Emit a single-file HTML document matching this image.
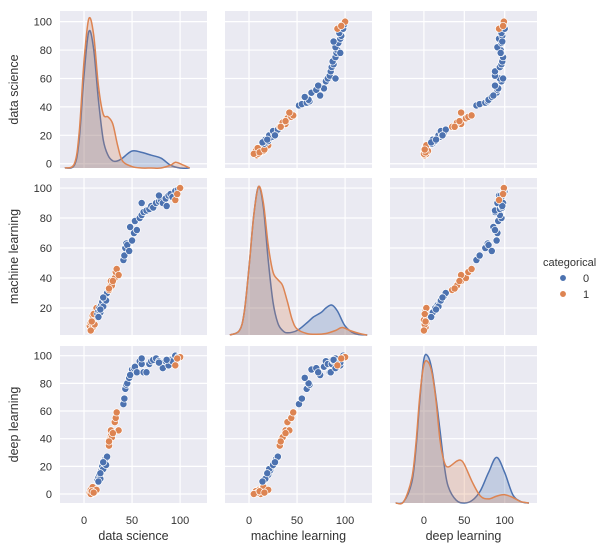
<!DOCTYPE html>
<html><head><meta charset="utf-8"><style>
html,body{margin:0;padding:0;background:#fff;}
svg{display:block;font-family:"Liberation Sans","DejaVu Sans",sans-serif;}
</style></head><body>
<svg id="chart" width="603" height="549" viewBox="0 0 603 549" xmlns="http://www.w3.org/2000/svg"></svg>
<script>
// ---- data ----
const variables = ["data science", "machine learning", "deep learning"];
const xTicks = [0, 50, 100];
const yTicksRow1 = [0, 20, 40, 60, 80, 100];
const yTicksRow2 = [20, 40, 60, 80, 100];
const yTicksRow3 = [0, 20, 40, 60, 80, 100];
const categories = ["0", "1"];
// points: data science, machine learning, deep learning, category
const dsVals = [6,7,8,9,10,11,12,7,9,13,8,10, 14,15,16,17,18,19,20,21,22,23,24,15,17,20, 26,27,28,28,29,32,33,34,36,30,26, 41,42,43,44,45,47,50,52,48,53,55, 58,60,62,65,68,70,72,75,78,80,82,85,88,90,92,95,98,60,86,78, 95,100,97];
const mlVals = [8,10,12,7,14,9,18,5,15,20,11,16, 16,18,20,17,22,24,21,26,28,25,30,14,19,27, 32,34,36,38,35,40,44,46,42,38,33, 52,55,60,63,62,58,65,70,74,78,72, 80,82,84,85,86,88,87,90,91,92,90,93,95,96,94,98,99,90,88,95, 92,100,96];
const dlVals = [1,3,0,2,4,1,2,0,5,3,2,1, 10,12,14,11,17,20,18,22,25,21,27,9,15,23, 35,40,42,46,41,52,55,59,46,44,38, 65,69,76,79,80,84,90,91,86,92,88, 96,94,88,88,94,96,97,98,96,95,91,96,93,97,96,100,99,98,97,95, 93,99,98];
const catVals = [1,1,1,1,1,1,1,1,1,1,1,1, 0,0,0,0,0,0,0,0,0,0,0,0,0,0, 1,1,1,1,1,1,1,1,1,1,1, 0,0,0,0,0,0,0,0,0,0,0, 0,0,0,0,0,0,0,0,0,0,0,0,0,0,0,0,0,0,0,0, 1,1,1];
// KDE curves (height above baseline, in row y-units)
const kdeDsX0 = [-20,-10,-5,0,5,10,15,20,25,30,35,40,50,60,70,80,90,100,110];
const kdeDsY0 = [0,2,20,65,96,84,48,20,9,5,5,7,12,11,9,7,2,0,0];
const kdeDsX1 = [-20,-10,-5,0,5,10,15,20,25,30,35,40,50,60,70,80,90,95,100,110];
const kdeDsY1 = [0,3,25,75,105,94,58,38,36,31,16,5,1,0,0,0,2,4,3,0];
const kdeMlX0 = [-20,-10,-5,0,5,10,15,20,25,30,35,40,50,60,67,75,80,86,92,100,110,123];
const kdeMlY0 = [0,3,15,45,80,99,85,50,22,8,3,1.5,3,8,12,15,18,20,16,6,1,0];
const kdeMlX1 = [-20,-10,-5,0,5,10,15,20,25,30,35,40,45,50,60,70,80,90,97,105,115,123];
const kdeMlY1 = [0,3,15,45,80,99,88,60,42,37,33,22,10,4,1,0.5,1,3,5,3,1,0];
const kdeDlX0 = [-35,-25,-15,-10,-5,0,5,10,15,20,25,30,40,50,60,70,80,90,100,110,120,130];
const kdeDlY0 = [0,1,15,38,75,104,106,96,76,52,28,12,2,0,2,9,22,33,22,6,1,0];
const kdeDlX1 = [-35,-25,-15,-10,-5,0,5,10,15,20,25,30,40,45,50,60,70,80,90,100,110,120,130];
const kdeDlY1 = [0,1,18,42,78,100,102,94,74,45,30,26,30,31,28,15,5,3,5,6,4,1,0];

// ---- layout ----
const colors = ["#4c72b0", "#dd8452"];
const NS = "http://www.w3.org/2000/svg";
const svg = document.getElementById("chart");
const colLeft = [60, 225, 390], colW = 147;
const rowTop = [11, 178, 346], rowH = 157;
const xDomains = [[-25, 128], [-25, 128], [-42, 140]];
const yDomains = [[-3, 107.5], [2, 106.7], [-6.5, 107]];
const yTicksAll = [yTicksRow1, yTicksRow2, yTicksRow3];
const dataCols = [dsVals, mlVals, dlVals];
const kdes = [[[kdeDsX0,kdeDsY0],[kdeDsX1,kdeDsY1]], [[kdeMlX0,kdeMlY0],[kdeMlX1,kdeMlY1]], [[kdeDlX0,kdeDlY0],[kdeDlX1,kdeDlY1]]];
function xs(c, v){ const d = xDomains[c]; return colLeft[c] + (v - d[0]) / (d[1] - d[0]) * colW; }
function ys(r, v){ const d = yDomains[r]; return rowTop[r] + rowH - (v - d[0]) / (d[1] - d[0]) * rowH; }
function mk(tag, attrs, parent){ const e = document.createElementNS(NS, tag); for (const k in attrs) e.setAttribute(k, attrs[k]); (parent || svg).appendChild(e); return e; }
function smoothPath(pts){
  let d = "M" + pts[0][0].toFixed(1) + "," + pts[0][1].toFixed(1);
  for (let i = 0; i < pts.length - 1; i++){
    const p0 = pts[Math.max(0,i-1)], p1 = pts[i], p2 = pts[i+1], p3 = pts[Math.min(pts.length-1,i+2)];
    const c1x = p1[0] + (p2[0]-p0[0])/6, c1y = p1[1] + (p2[1]-p0[1])/6;
    const c2x = p2[0] - (p3[0]-p1[0])/6, c2y = p2[1] - (p3[1]-p1[1])/6;
    d += " C" + c1x.toFixed(1) + "," + c1y.toFixed(1) + " " + c2x.toFixed(1) + "," + c2y.toFixed(1) + " " + p2[0].toFixed(1) + "," + p2[1].toFixed(1);
  }
  return d;
}

for (let r = 0; r < 3; r++){
  for (let c = 0; c < 3; c++){
    const g = mk("g", {});
    
    
    mk("rect", {x: colLeft[c], y: rowTop[r], width: colW, height: rowH, fill: "#eaeaf2"}, g);
    xTicks.forEach(t => { const x = xs(c, t); mk("line", {x1: x, x2: x, y1: rowTop[r], y2: rowTop[r] + rowH, stroke: "#fff", "stroke-width": 1.2}, g); });
    yTicksAll[r].forEach(t => { const y = ys(r, t); mk("line", {x1: colLeft[c], x2: colLeft[c] + colW, y1: y, y2: y, stroke: "#fff", "stroke-width": 1.2}, g); });
    if (r === c){
      const base = yDomains[r][0];
      [0, 1].forEach(k => {
        const kx = kdes[r][k][0], ky = kdes[r][k][1];
        const pts = kx.map((v, i) => [xs(c, v), ys(r, base + ky[i])]);
        const d = smoothPath(pts);
        const fill = mk("path", {d: d + " L" + pts[pts.length-1][0] + "," + ys(r, base) + " L" + pts[0][0] + "," + ys(r, base) + "Z", fill: colors[k], "fill-opacity": 0.25, stroke: "none"}, g);
        
        
        const line = mk("path", {d: d, fill: "none", stroke: colors[k], "stroke-width": 1.5}, g);
        
        
      });
    } else {
      const xv = dataCols[c], yv = dataCols[r];
      for (let i = 0; i < xv.length; i++){
        const p = mk("circle", {cx: xs(c, xv[i]), cy: ys(r, yv[i]), r: 3.6, fill: colors[catVals[i]], stroke: "#fff", "stroke-width": 0.7}, g);
        
        
      }
    }
  }
}
// y tick labels and axis titles
for (let r = 0; r < 3; r++){
  yTicksAll[r].forEach(t => {
    const tx = mk("text", {x: 52, y: ys(r, t) + 4, "text-anchor": "end", "font-size": 11, fill: "#333"});
    tx.textContent = t;
    
    
  });
  const cy = rowTop[r] + rowH / 2;
  const yl = mk("text", {x: 18, y: cy, transform: "rotate(-90 18 " + cy + ")", "text-anchor": "middle", "font-size": 12.5, fill: "#333"});
  yl.textContent = variables[r];
  
  
}
for (let c = 0; c < 3; c++){
  xTicks.forEach(t => {
    const tx = mk("text", {x: xs(c, t), y: 524, "text-anchor": "middle", "font-size": 11, fill: "#333"});
    tx.textContent = t;
    
    
  });
  const xl = mk("text", {x: colLeft[c] + colW / 2, y: 540, "text-anchor": "middle", "font-size": 12.5, fill: "#333"});
  xl.textContent = variables[c];
  
  
}
// legend
const lg = mk("g", {});


const lt = mk("text", {x: 543, y: 266, "font-size": 11, fill: "#333"}, lg);
lt.textContent = "categorical";


categories.forEach((cat, k) => {
  const y = 278 + k * 16;
  const e = mk("g", {}, lg);
  
  
  mk("circle", {cx: 563, cy: y, r: 3.3, fill: colors[k], stroke: "#fff", "stroke-width": 0.7}, e);
  const t = mk("text", {x: 583, y: y + 4, "font-size": 11, fill: "#333"}, e);
  t.textContent = cat;
});
</script>
</body></html>
